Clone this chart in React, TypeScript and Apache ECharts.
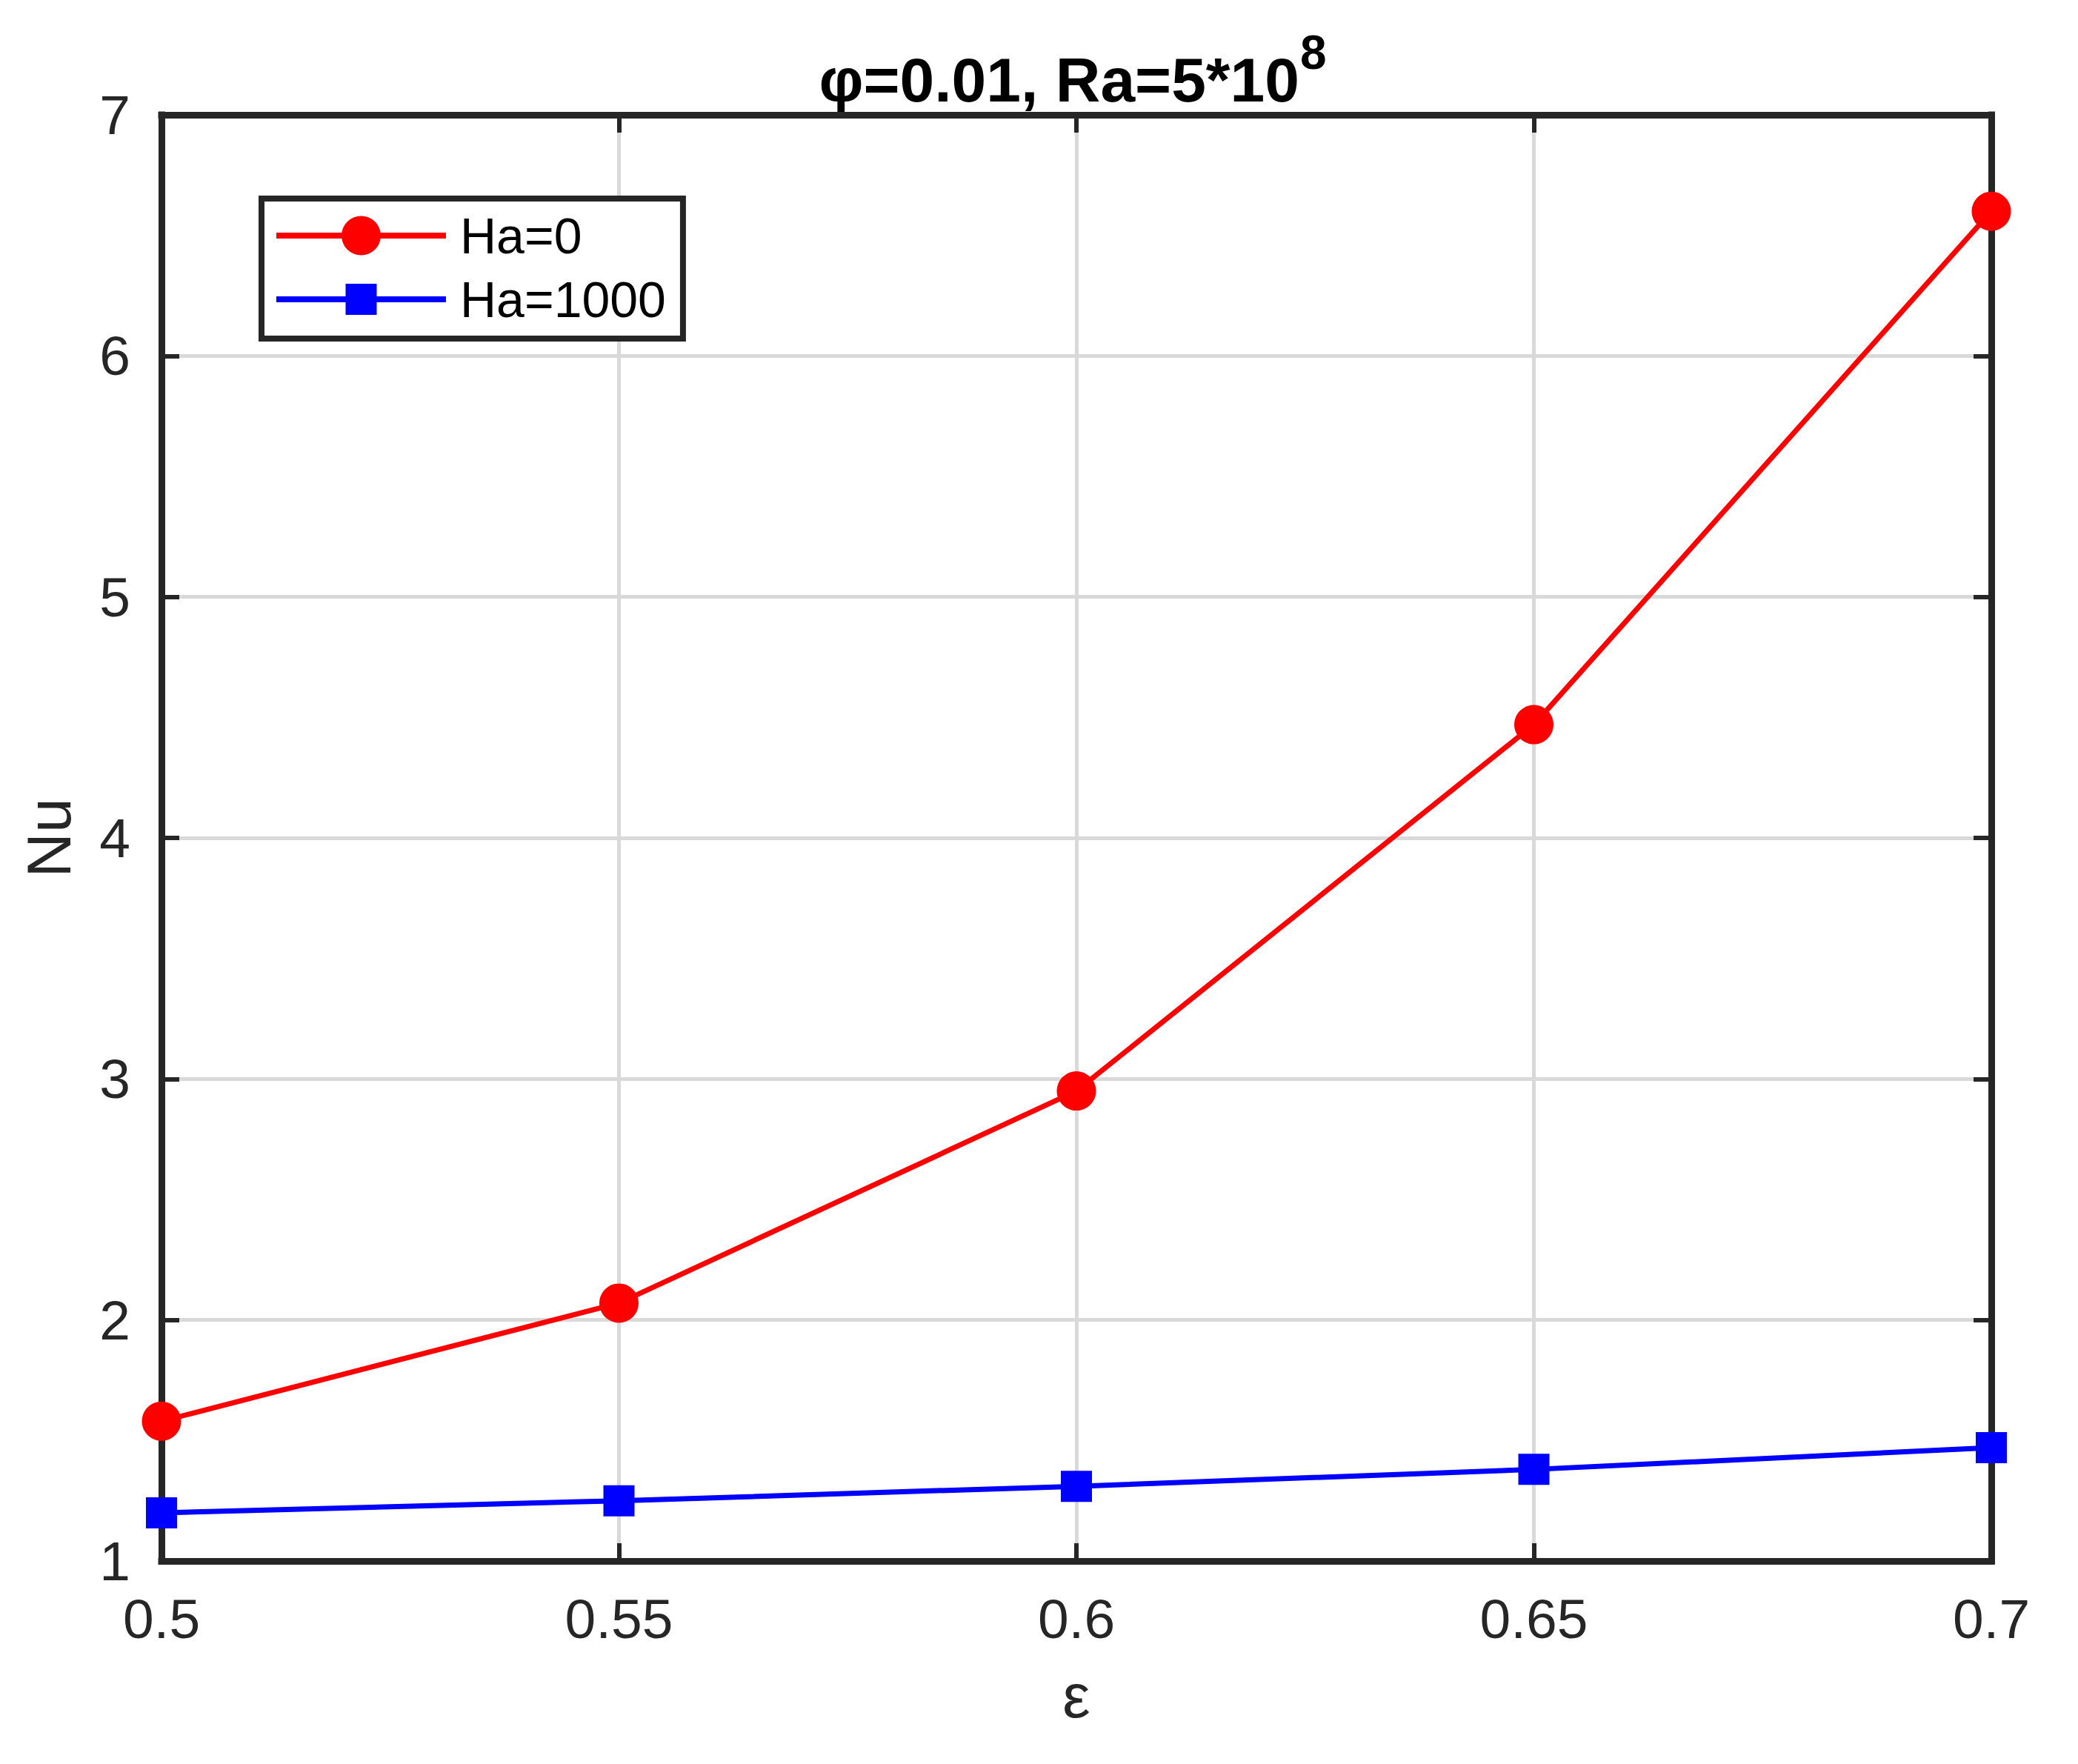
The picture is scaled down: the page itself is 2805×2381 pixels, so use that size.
import React, { useEffect, useRef } from "react";
import * as echarts from "echarts";

const epsilon = [0.5, 0.55, 0.6, 0.65, 0.7];
const nuHa0 = [1.58, 2.07, 2.95, 4.47, 6.6];
const nuHa1000 = [1.2, 1.25, 1.31, 1.38, 1.47];
const seriesNames = ["Ha=0", "Ha=1000"];
const titleMain = "φ=0.01, Ra=5*10";
const titleSup = "8";
const xName = "ε";
const yName = "Nu";

const FONT = "'Liberation Sans', Arial, Helvetica, sans-serif";
const AX = "#262626";

const iconCircle =
  "path://M0 22.5H229V30.5H0Z M88 26.5A26.5 26.5 0 1 1 141 26.5A26.5 26.5 0 1 1 88 26.5Z";
const iconSquare = "path://M0 17H229V25H0Z M93.5 0H135.5V42H93.5Z";

export default function App() {
  const ref = useRef<HTMLDivElement>(null);
  useEffect(() => {
    document.body.style.margin = "0";
    const chart = echarts.init(ref.current!, null, { renderer: "svg" });
    const axisCommon = (pos: string) => ({
      position: pos,
      axisLine: { show: true, onZero: false, lineStyle: { color: AX, width: 9, cap: "square" } },
      axisTick: { show: true, inside: true, length: 24, lineStyle: { color: AX, width: 6 } },
    });
    chart.setOption({
      animation: false,
      backgroundColor: "#ffffff",
      grid: { left: 218, top: 155, right: 117, bottom: 274, containLabel: false },
      graphic: [
        {
          type: "text",
          x: 1754,
          y: 108,
          style: {
            text: titleMain,
            font: `bold 84px ${FONT}`,
            fill: "#000",
            align: "right",
            verticalAlign: "middle",
          },
        },
        {
          type: "text",
          x: 1755,
          y: 71,
          style: {
            text: titleSup,
            font: `bold 64px ${FONT}`,
            fill: "#000",
            align: "left",
            verticalAlign: "middle",
          },
        },
      ],
      legend: {
        left: 353,
        top: 268,
        orient: "vertical",
        padding: [16, 23, 19, 20],
        itemWidth: 229,
        itemHeight: 53,
        itemGap: 18,
        borderColor: "#262626",
        borderWidth: 8,
        backgroundColor: "#fff",
        itemStyle: { borderWidth: 0 },
        textStyle: { fontFamily: FONT, fontSize: 68, color: "#000", padding: [0, 0, 0, 14] },
        data: [
          { name: seriesNames[0], icon: iconCircle },
          { name: seriesNames[1], icon: iconSquare },
        ],
      },
      xAxis: [
        {
          type: "value",
          min: 0.5,
          max: 0.7,
          interval: 0.05,
          ...axisCommon("bottom"),
          axisLabel: { show: true, margin: 40, fontFamily: FONT, fontSize: 75, color: AX },
          splitLine: { show: true, lineStyle: { color: "#d9d9d9", width: 5 } },
          name: xName,
          nameLocation: "middle",
          nameGap: 140,
          nameTextStyle: { fontFamily: FONT, fontSize: 84, color: AX },
        },
        {
          type: "value",
          min: 0.5,
          max: 0.7,
          interval: 0.05,
          ...axisCommon("top"),
          axisLabel: { show: false },
          splitLine: { show: false },
        },
      ],
      yAxis: [
        {
          type: "value",
          min: 1,
          max: 7,
          interval: 1,
          ...axisCommon("left"),
          axisLabel: { show: true, margin: 42, fontFamily: FONT, fontSize: 75, color: AX },
          splitLine: { show: true, lineStyle: { color: "#d9d9d9", width: 5 } },
          name: yName,
          nameLocation: "middle",
          nameRotate: 90,
          nameGap: 110,
          nameTextStyle: { fontFamily: FONT, fontSize: 84, color: AX },
        },
        {
          type: "value",
          min: 1,
          max: 7,
          interval: 1,
          ...axisCommon("right"),
          axisLabel: { show: false },
          splitLine: { show: false },
        },
      ],
      series: [
        {
          name: seriesNames[0],
          type: "line",
          xAxisIndex: 0,
          yAxisIndex: 0,
          data: epsilon.map((x, i) => [x, nuHa0[i]]),
          symbol: "circle",
          symbolSize: 53,
          lineStyle: { color: "#ff0000", width: 7 },
          itemStyle: { color: "#ff0000" },
          clip: false,
          z: 5,
        },
        {
          name: seriesNames[1],
          type: "line",
          xAxisIndex: 0,
          yAxisIndex: 0,
          data: epsilon.map((x, i) => [x, nuHa1000[i]]),
          symbol: "rect",
          symbolSize: 42,
          lineStyle: { color: "#0000ff", width: 7 },
          itemStyle: { color: "#0000ff" },
          clip: false,
          z: 5,
        },
      ],
    });
    return () => chart.dispose();
  }, []);
  return <div ref={ref} style={{ width: 2805, height: 2381 }} />;
}
